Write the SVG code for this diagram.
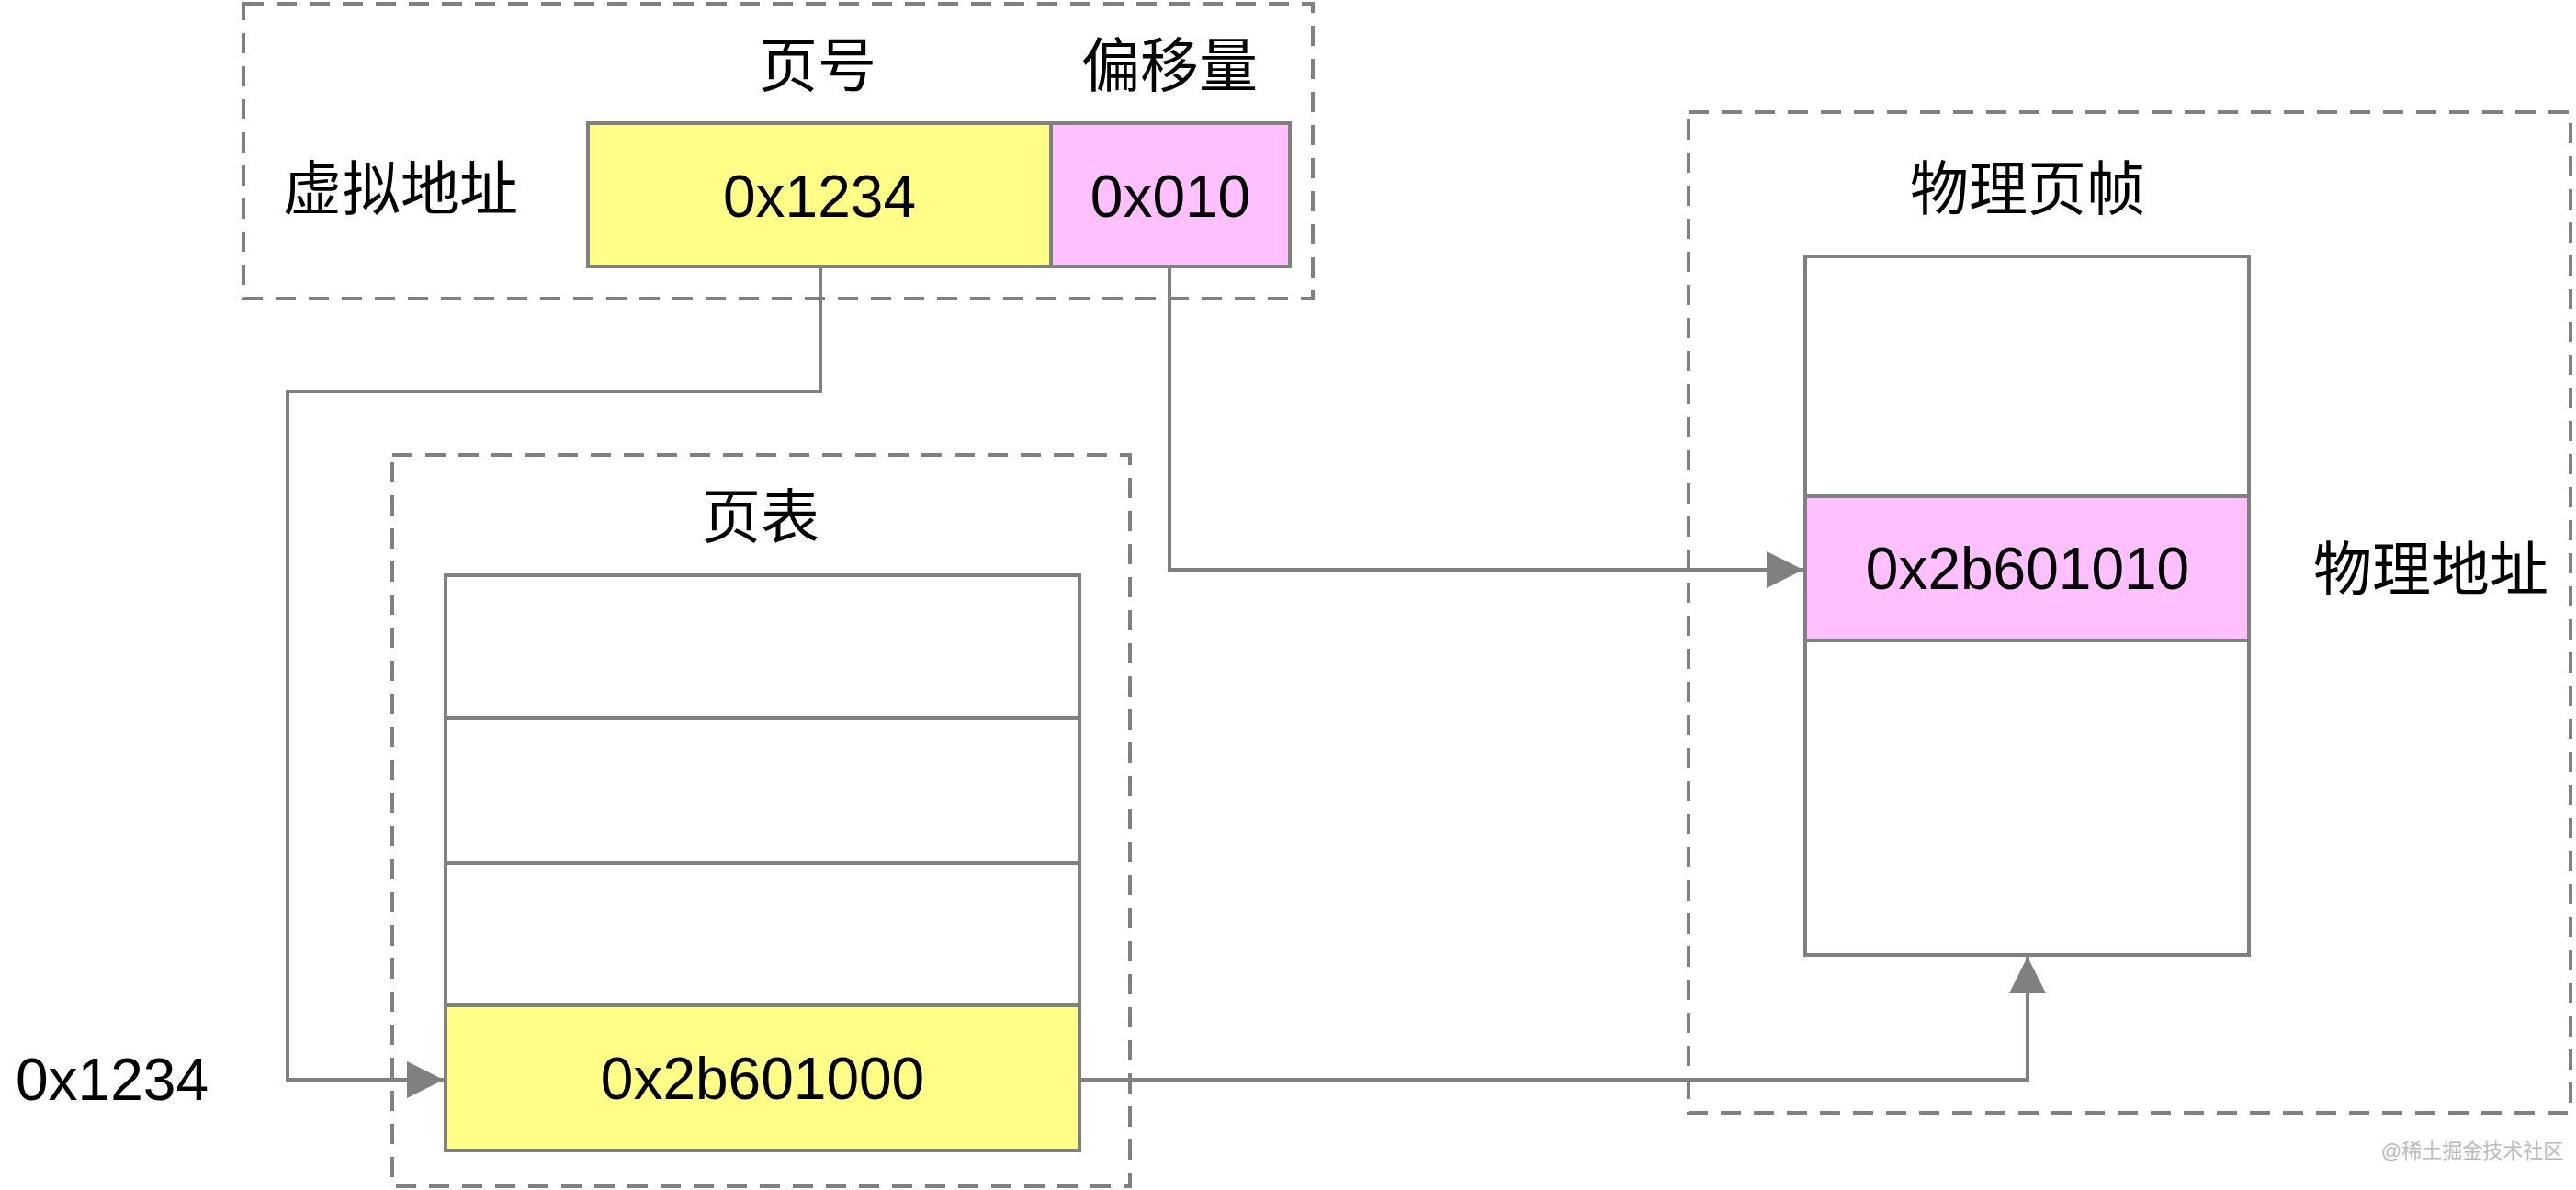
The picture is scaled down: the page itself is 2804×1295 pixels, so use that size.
<svg xmlns="http://www.w3.org/2000/svg" width="2804" height="1295" viewBox="0 0 2804 1295">
<style>
.t{font-family:"Liberation Sans","Noto Sans CJK SC",sans-serif;font-size:64px;fill:#000;text-anchor:middle;dominant-baseline:central}
.box{stroke:#808080;stroke-width:4}
.dash{fill:none;stroke:#808080;stroke-width:4;stroke-dasharray:22 14}
.c{fill:none;stroke:#808080;stroke-width:4}
</style>
<defs><marker id="a" markerWidth="10" markerHeight="10" refX="9" refY="5" orient="auto" markerUnits="userSpaceOnUse" viewBox="0 0 10 10"><path d="M0,0 L10,5 L0,10 z" fill="#808080"/></marker>
<marker id="ah" viewBox="0 0 10 10" refX="10" refY="5" markerWidth="40" markerHeight="40" markerUnits="userSpaceOnUse" orient="auto"><path d="M0,0 L10,5 L0,10 z" fill="#808080"/></marker></defs>
<rect width="2804" height="1295" fill="#fff"/>
<g id="va-group">
<rect class="dash" x="265" y="4" width="1164" height="321"/>
<text class="t" x="890" y="72">页号</text>
<text class="t" x="1273" y="72">偏移量</text>
<text class="t" x="436" y="206">虚拟地址</text>
</g>
<g id="vpn"><rect class="box" x="640" y="134" width="504" height="156" fill="#ffff88"/><text class="t" x="892" y="214">0x1234</text></g>
<g id="offset"><rect class="box" x="1144" y="134" width="260" height="156" fill="#ffc0ff"/><text class="t" x="1274" y="214">0x010</text></g>
<g id="pt-group">
<rect class="dash" x="427" y="495" width="803" height="796"/>
<text class="t" x="828" y="563">页表</text>
</g>
<g id="pt">
<rect class="box" x="485" y="626" width="690" height="155" fill="#fff"/>
<rect class="box" x="485" y="781" width="690" height="158" fill="#fff"/>
<rect class="box" x="485" y="939" width="690" height="155" fill="#fff"/>
<rect class="box" x="485" y="1094" width="690" height="158" fill="#ffff88"/>
<text class="t" x="830" y="1174">0x2b601000</text>
</g>
<g id="idx"><text class="t" x="122" y="1175">0x1234</text></g>
<g id="pf-group">
<rect class="dash" x="1838" y="122" width="960" height="1089"/>
<text class="t" x="2207" y="206">物理页帧</text>
<text class="t" x="2646" y="620">物理地址</text>
</g>
<g id="frame">
<rect class="box" x="1965" y="279" width="483" height="261" fill="#fff"/>
<rect class="box" x="1965" y="540" width="483" height="157" fill="#ffc0ff"/>
<rect class="box" x="1965" y="697" width="483" height="342" fill="#fff"/>
<text class="t" x="2207" y="619">0x2b601010</text>
</g>
<g id="connectors">
<path class="c" d="M893,290 V426 H313 V1175 H483" marker-end="url(#ah)"/>
<path class="c" d="M1175,1175 H2207 V1041" marker-end="url(#ah)"/>
<path class="c" d="M1273,290 V620 H1963" marker-end="url(#ah)"/>
</g>
<text x="2691" y="1260" font-family="Liberation Sans,Noto Sans CJK SC,sans-serif" font-size="22" fill="#bbb" text-anchor="middle">@稀土掘金技术社区</text>
</svg>
